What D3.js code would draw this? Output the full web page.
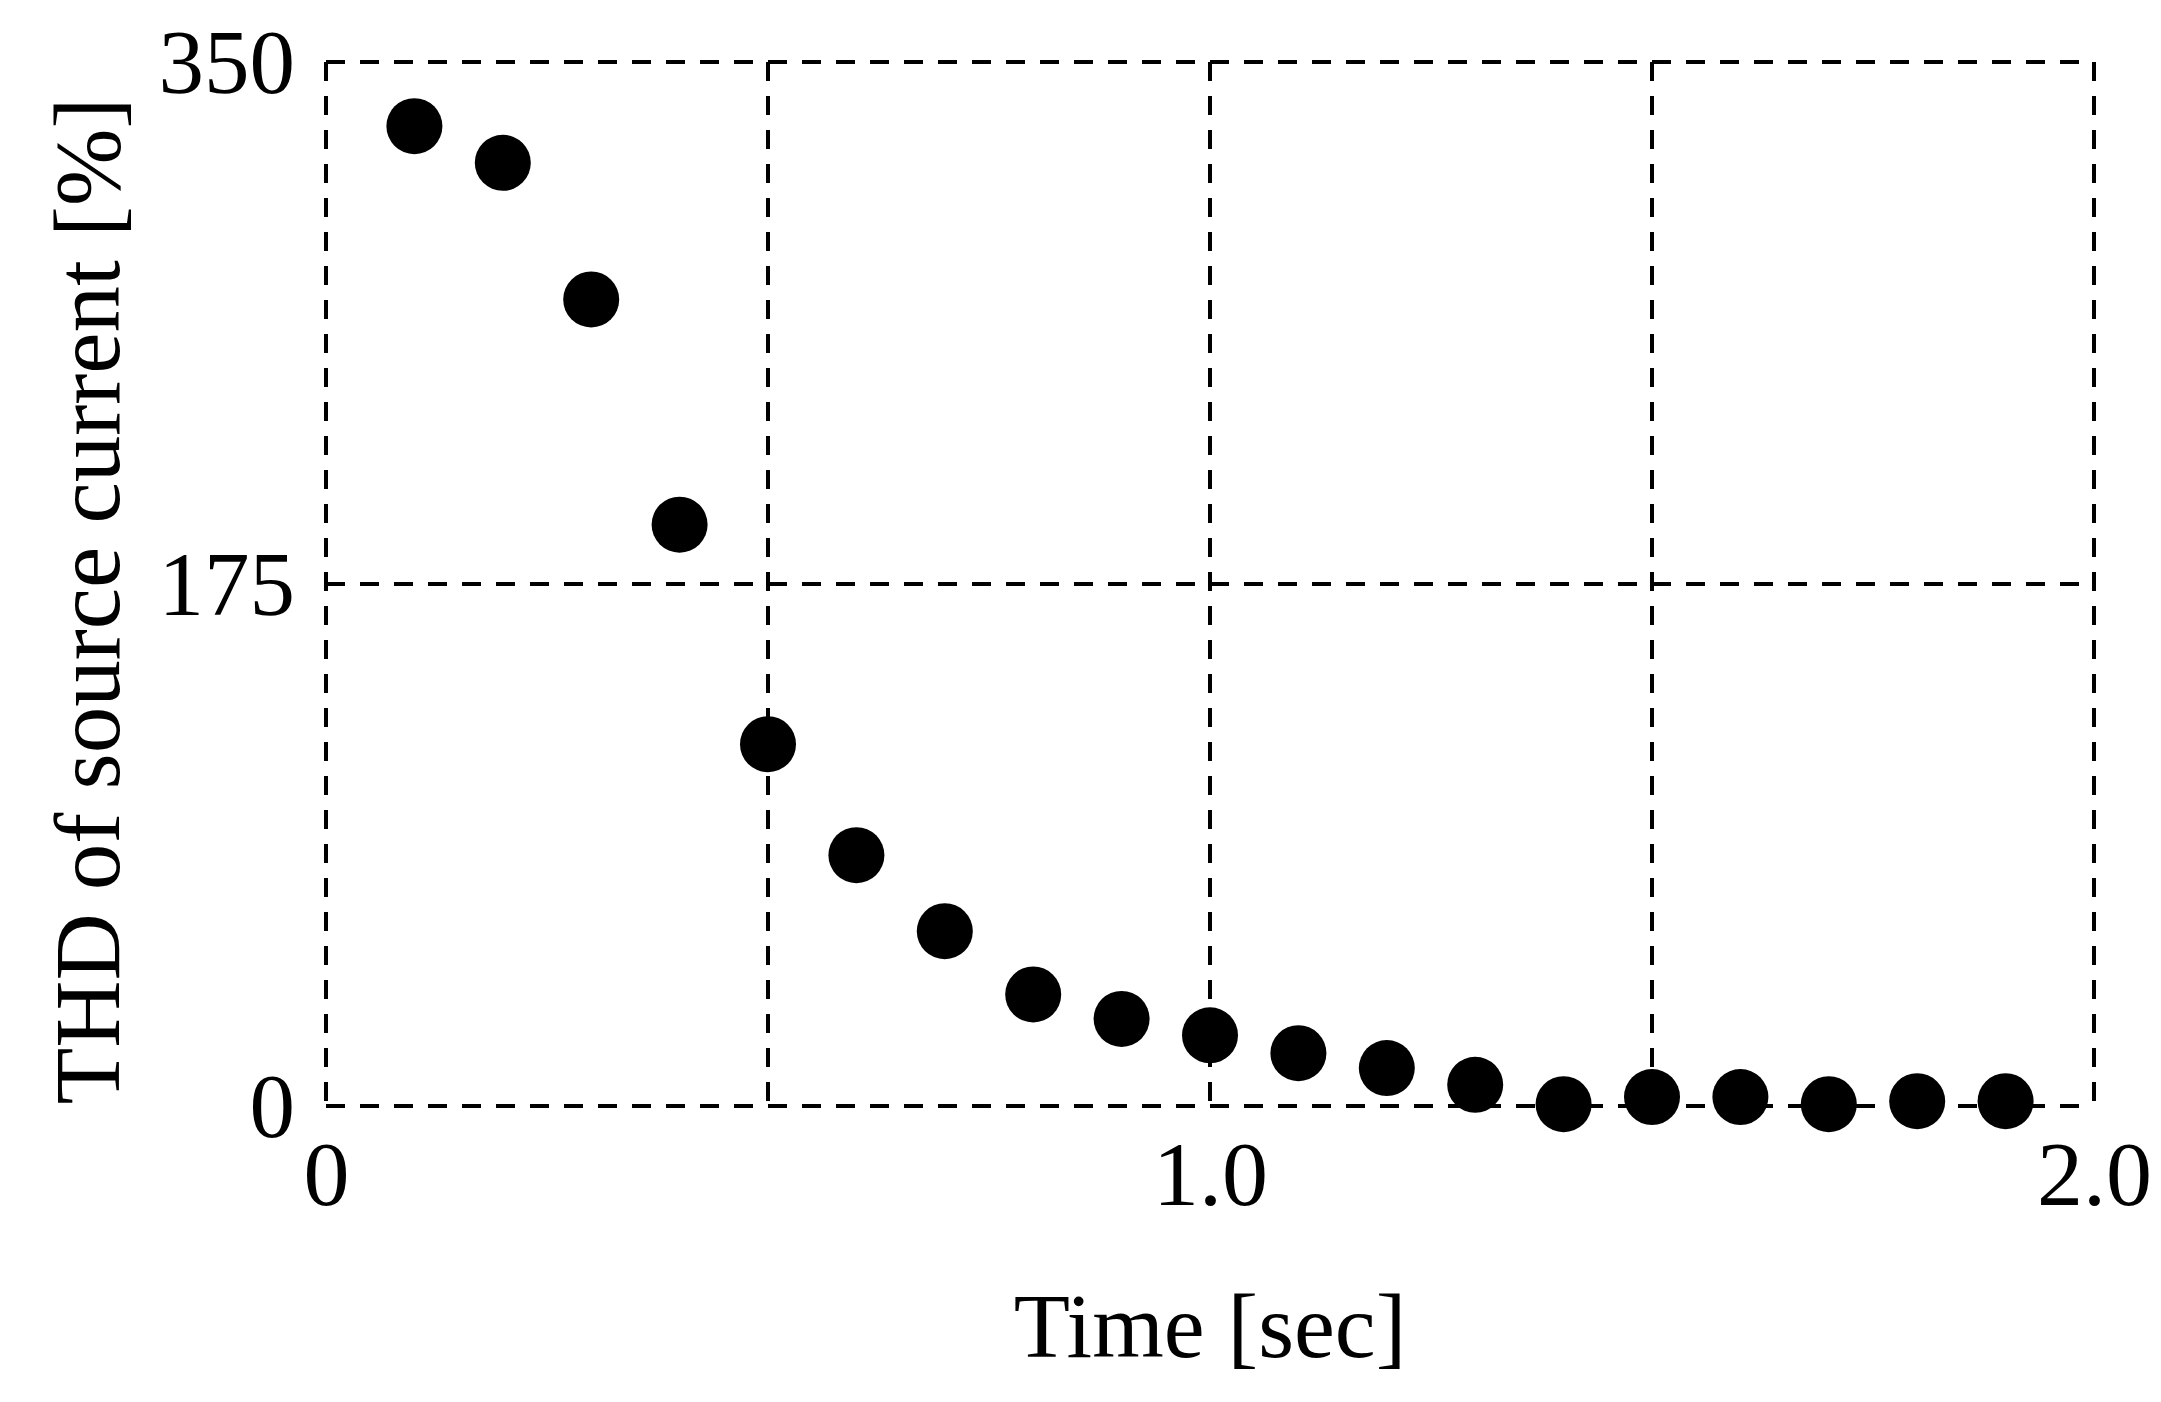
<!DOCTYPE html>
<html>
<head>
<meta charset="utf-8">
<script src="https://cdn.jsdelivr.net/npm/d3@7"></script>
<style>
  html, body { margin: 0; padding: 0; background: #fff; }
  svg { display: block; }
  text { font-family: "Liberation Serif", "Times New Roman", serif; fill: #000; }
</style>
</head>
<body>
<svg id="chart" width="2161" height="1402"></svg>
<script>
// Data
const timeSec = [0.1, 0.2, 0.3, 0.4, 0.5, 0.6, 0.7, 0.8, 0.9, 1.0, 1.1, 1.2, 1.3, 1.4, 1.5, 1.6, 1.7, 1.8, 1.9];
const thdPercent = [328.5, 316.2, 270.4, 194.9, 121.3, 84.1, 58.6, 37.4, 29.2, 23.7, 17.7, 12.7, 7.1, 0.6, 3.0, 3.0, 0.6, 1.6, 1.6];
const xTicks = [0, 1.0, 2.0];
const xTickLabels = ["0", "1.0", "2.0"];
const xGrid = [0.5, 1.0, 1.5];
const yTicks = [0, 175, 350];
const yTickLabels = ["0", "175", "350"];
const yGrid = [175];
const xTitle = "Time [sec]";
const yTitle = "THD of source current [%]";

(function () {
const svg = d3.select("#chart");
const mLeft = 326, mRight = 2094, mTop = 62, mBottom = 1106;

const x = d3.scaleLinear().domain([0, 2]).range([mLeft, mRight]);
const y = d3.scaleLinear().domain([0, 350]).range([mBottom, mTop]);

const dash = "19,15";
const sw = 4;
const g = svg.append("g");

// Grid lines
g.selectAll("line.vg").data(xGrid).enter().append("line")
  .attr("x1", d => x(d)).attr("x2", d => x(d))
  .attr("y1", y(350)).attr("y2", y(0))
  .attr("stroke", "#000").attr("stroke-width", sw).attr("stroke-dasharray", dash);
g.selectAll("line.hg").data(yGrid).enter().append("line")
  .attr("x1", x(0)).attr("x2", x(2))
  .attr("y1", d => y(d)).attr("y2", d => y(d))
  .attr("stroke", "#000").attr("stroke-width", sw).attr("stroke-dasharray", dash);

// Frame (dashed)
const frame = [
  [x(0), y(350), x(2), y(350)],
  [x(0), y(0), x(2), y(0)],
  [x(0), y(350), x(0), y(0)],
  [x(2), y(350), x(2), y(0)]
];
g.selectAll("line.frame").data(frame).enter().append("line")
  .attr("x1", d => d[0]).attr("y1", d => d[1]).attr("x2", d => d[2]).attr("y2", d => d[3])
  .attr("stroke", "#000").attr("stroke-width", sw).attr("stroke-dasharray", dash);

// Axes via d3 axis generators (tick lines hidden)
const xAxis = d3.axisBottom(x).tickValues(xTicks).tickSize(0).tickPadding(0)
  .tickFormat((d, i) => xTickLabels[i]);
const xg = svg.append("g").attr("transform", `translate(0,${mBottom})`).call(xAxis);
xg.select(".domain").remove();
xg.selectAll("text").attr("font-size", 92).attr("font-family", "Liberation Serif")
  .attr("fill", "#000").attr("dy", "0").attr("y", 99);

const yAxis = d3.axisLeft(y).tickValues(yTicks).tickSize(0).tickPadding(0)
  .tickFormat((d, i) => yTickLabels[i]);
const yg = svg.append("g").attr("transform", `translate(${mLeft},0)`).call(yAxis);
yg.select(".domain").remove();
yg.selectAll("text").attr("font-size", 91).attr("font-family", "Liberation Serif")
  .attr("fill", "#000").attr("x", -31).attr("dy", "0.33em");

// Points
svg.append("g").selectAll("circle").data(timeSec).enter().append("circle")
  .attr("cx", d => x(d))
  .attr("cy", (d, i) => y(thdPercent[i]))
  .attr("r", 28)
  .attr("fill", "#000");

// Titles
svg.append("text")
  .attr("x", (mLeft + mRight) / 2).attr("y", 1357)
  .attr("text-anchor", "middle").attr("font-size", 92)
  .text(xTitle);

svg.append("text")
  .attr("transform", `translate(119,${(mTop + mBottom) / 2 + 17}) rotate(-90)`)
  .attr("text-anchor", "middle").attr("font-size", 93)
  .text(yTitle);
})();
</script>
</body>
</html>
